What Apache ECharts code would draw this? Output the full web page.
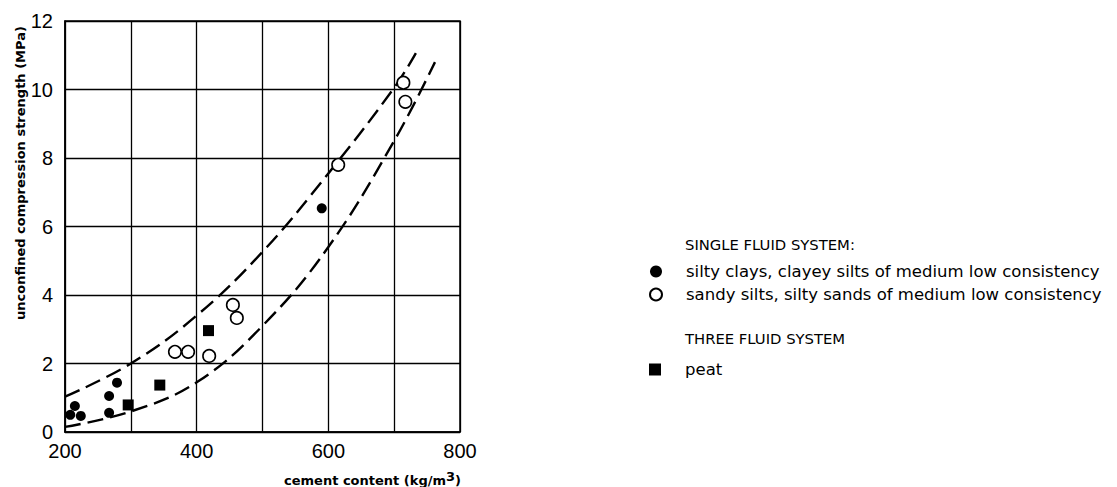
<!DOCTYPE html>
<html>
<head>
<meta charset="utf-8">
<script src="https://cdn.jsdelivr.net/npm/echarts@6/dist/echarts.min.js"></script>
<style>
html,body{margin:0;padding:0;background:#fff;}
#chart{width:1117px;height:487px;}
</style>
</head>
<body>
<div id="chart"></div>
<script>
// ---- data ----
const xTicks = [200, 400, 600, 800];
const yTicks = [0, 2, 4, 6, 8, 10, 12];

const siltyClays = [[208, 0.50], [215, 0.76], [224, 0.47], [267, 0.56], [267, 1.05], [279, 1.44], [590, 6.53]];
const sandySilts = [[367, 2.34], [387, 2.34], [419, 2.22], [455, 3.71], [461, 3.33], [615, 7.80], [714, 10.2], [717, 9.64]];
const peat = [[296, 0.79], [344, 1.37], [418, 2.96]];

const upperBound = [[200, 1.03], [300, 2.0], [400, 3.4], [500, 5.26], [600, 7.55], [700, 10.05], [733, 11.06]];
const lowerBound = [[200, 0.15], [300, 0.6], [400, 1.45], [500, 3.1], [600, 5.4], [700, 8.5], [762, 10.8]];

const nameSilty = 'silty clays, clayey silts of medium low consistency';
const nameSandy = 'sandy silts, silty sands of medium low consistency';
const namePeat = 'peat';

const FONT = '"Liberation Sans", Arial, sans-serif';
const FONT2 = '"DejaVu Sans", sans-serif';

const chart = echarts.init(document.getElementById('chart'), null, {renderer: 'svg'});

const dashLine = {color: '#000', width: 2.4, type: [16, 7]};
const legendText = {color: '#000', fontSize: 16.5, fontFamily: FONT2, padding: [0, 0, 0, 19]};

chart.setOption({
  animation: false,
  backgroundColor: '#fff',
  grid: {left: 65, top: 21, width: 395, height: 411, show: true, borderColor: '#000', borderWidth: 1.5, backgroundColor: 'transparent'},
  xAxis: {
    type: 'value', min: 200, max: 800, interval: 100,
    axisLine: {show: true, lineStyle: {color: '#000', width: 1.5}},
    axisTick: {show: false},
    splitLine: {show: true, lineStyle: {color: '#000', width: 1.3}},
    axisLabel: {
      color: '#000', fontSize: 20, fontFamily: FONT, margin: 9,
      formatter: v => xTicks.includes(v) ? String(v) : ''
    }
  },
  yAxis: {
    type: 'value', min: 0, max: 12, interval: 2,
    axisLine: {show: true, lineStyle: {color: '#000', width: 1.5}},
    axisTick: {show: false},
    splitLine: {show: true, lineStyle: {color: '#000', width: 1.3}},
    axisLabel: {
      color: '#000', fontSize: 20, fontFamily: FONT, margin: 12,
      formatter: v => yTicks.includes(v) ? String(v) : ''
    }
  },
  legend: [
    {
      data: [nameSilty, nameSandy], orient: 'vertical', left: 644, top: 258,
      itemWidth: 12, itemHeight: 12, itemGap: 6, selectedMode: false,
      textStyle: legendText
    },
    {
      data: [namePeat], orient: 'vertical', left: 644, top: 356,
      itemWidth: 12, itemHeight: 12, selectedMode: false,
      textStyle: legendText
    }
  ],
  graphic: [
    {type: 'text', left: 685, top: 237, style: {text: 'SINGLE FLUID SYSTEM:', fill: '#000', font: '14.8px ' + FONT2}},
    {type: 'text', left: 685, top: 331, style: {text: 'THREE FLUID SYSTEM', fill: '#000', font: '14.8px ' + FONT2}},
    {type: 'text', x: 20, y: 173, rotation: Math.PI / 2,
      style: {text: 'unconfined compression strength (MPa)', fill: '#000', font: 'bold 13px ' + FONT2, align: 'center', verticalAlign: 'middle'}},
    {type: 'text', x: 461, y: 480,
      style: {
        text: '{n|cement content (kg/m}{s|3}{n|)}', align: 'right', verticalAlign: 'middle',
        rich: {
          n: {fill: '#000', font: 'bold 13px ' + FONT2},
          s: {fill: '#000', font: 'bold 13px ' + FONT2, verticalAlign: 'top', padding: [0, 0, 8, 0]}
        }
      }}
  ],
  series: [
    {type: 'line', data: upperBound, smooth: 0.4, symbol: 'none', lineStyle: dashLine, silent: true, z: 2},
    {type: 'line', data: lowerBound, smooth: 0.4, symbol: 'none', lineStyle: dashLine, silent: true, z: 2},
    {name: nameSilty, type: 'scatter', data: siltyClays, symbol: 'circle', symbolSize: 10,
      itemStyle: {color: '#000', opacity: 1}, z: 3},
    {name: nameSandy, type: 'scatter', data: sandySilts, symbol: 'circle', symbolSize: 12.5,
      itemStyle: {color: '#fff', borderColor: '#000', borderWidth: 1.6, opacity: 1}, z: 3},
    {name: namePeat, type: 'scatter', data: peat, symbol: 'rect', symbolSize: 11,
      itemStyle: {color: '#000', opacity: 1}, z: 3}
  ]
});
</script>
</body>
</html>
